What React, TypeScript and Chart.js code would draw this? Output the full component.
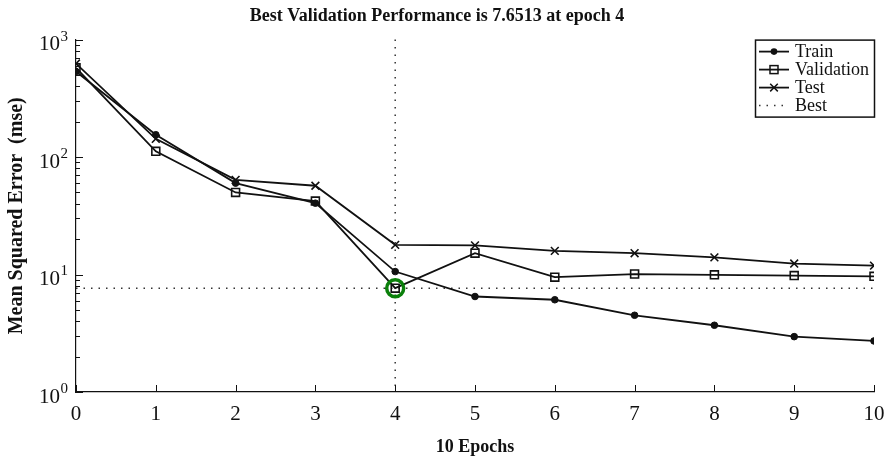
import React, { useEffect, useRef } from "react";
import { Chart, registerables } from "chart.js";

Chart.register(...registerables);

// ---- data ----
const epochs = [0, 1, 2, 3, 4, 5, 6, 7, 8, 9, 10];
const trainMSE = [535, 155, 60, 40.5, 10.6, 6.5, 6.1, 4.5, 3.7, 2.96, 2.72];
const validationMSE = [575, 112, 50, 42.2, 7.6513, 15.2, 9.5, 10.1, 9.95, 9.8, 9.65];
const testMSE = [625, 143, 64, 57, 17.9, 17.7, 15.9, 15.2, 14.0, 12.4, 11.9];
const bestEpoch = 4;
const bestValue = 7.6513;
const yTickValues = [1, 10, 100, 1000];
const yTickBase = "10";
const yTickExponents = ["0", "1", "2", "3"];
const xTickValues = [0, 1, 2, 3, 4, 5, 6, 7, 8, 9, 10];
const legendLabels = ["Train", "Validation", "Test", "Best"];
const titleText = "Best Validation Performance is 7.6513 at epoch 4";
const xTitle = "10 Epochs";
const yTitle = "Mean Squared Error  (mse)";

const SERIF = "'Liberation Serif', 'Times New Roman', Times, serif";
const INK = "#111111";

const inwardTicks = {
  id: "inwardTicks",
  afterDraw(chart: any) {
    const { ctx, chartArea } = chart;
    const xs = chart.scales.x;
    const ys = chart.scales.y;
    ctx.save();
    ctx.strokeStyle = INK;
    ctx.lineWidth = 1;
    ctx.beginPath();
    for (let d = 0; d < yTickValues.length; d++) {
      const base = yTickValues[d];
      const py = Math.round(ys.getPixelForValue(base)) + 0.5;
      ctx.moveTo(chartArea.left, py);
      ctx.lineTo(chartArea.left + 7, py);
      if (d < yTickValues.length - 1) {
        for (let m = 2; m <= 9; m++) {
          const my = Math.round(ys.getPixelForValue(base * m)) + 0.5;
          ctx.moveTo(chartArea.left, my);
          ctx.lineTo(chartArea.left + 4, my);
        }
      }
    }
    for (const v of xTickValues) {
      const px = Math.round(xs.getPixelForValue(v)) + 0.5;
      ctx.moveTo(px, chartArea.bottom);
      ctx.lineTo(px, chartArea.bottom - 7);
    }
    ctx.stroke();

    // y tick labels: base with raised exponent, placed by the log scale
    ctx.fillStyle = INK;
    ctx.textBaseline = "middle";
    yTickValues.forEach((v, i) => {
      const py = ys.getPixelForValue(v);
      const expX = chartArea.left - 16;
      ctx.font = `21px ${SERIF}`;
      ctx.textAlign = "right";
      ctx.fillText(yTickBase, expX, py + 5);
      ctx.font = `15px ${SERIF}`;
      ctx.textAlign = "left";
      ctx.fillText(yTickExponents[i], expX + 0.5, py - 3);
    });
    ctx.restore();
  },
};

const bestLines = {
  id: "bestLines",
  beforeDatasetsDraw(chart: any) {
    const { ctx, chartArea } = chart;
    const px = chart.scales.x.getPixelForValue(bestEpoch);
    const py = chart.scales.y.getPixelForValue(bestValue);
    ctx.save();
    ctx.strokeStyle = "#333333";
    ctx.lineWidth = 1.5;
    ctx.setLineDash([1.5, 6]);
    ctx.beginPath();
    ctx.moveTo(px, chartArea.top);
    ctx.lineTo(px, chartArea.bottom);
    ctx.moveTo(chartArea.left, py);
    ctx.lineTo(chartArea.right, py);
    ctx.stroke();
    ctx.restore();
  },
};

const customLegend = {
  id: "customLegend",
  afterDraw(chart: any) {
    const { ctx, chartArea } = chart;
    const w = 120;
    const h = 78;
    const bx = chartArea.right - w + 1;
    const by = chartArea.top;
    ctx.save();
    ctx.fillStyle = "#ffffff";
    ctx.fillRect(bx, by, w, h);
    ctx.strokeStyle = INK;
    ctx.lineWidth = 1.5;
    ctx.strokeRect(bx + 0.5, by + 0.5, w - 1, h - 1);
    ctx.font = `18px ${SERIF}`;
    ctx.textBaseline = "middle";
    ctx.textAlign = "left";
    legendLabels.forEach((label, i) => {
      const y = by + 12 + i * 18;
      const x0 = bx + 4;
      const x1 = bx + 34;
      const cx = (x0 + x1) / 2;
      ctx.strokeStyle = INK;
      ctx.fillStyle = INK;
      if (i < 3) {
        ctx.lineWidth = 1.8;
        ctx.setLineDash([]);
        ctx.beginPath();
        ctx.moveTo(x0, y);
        ctx.lineTo(x1, y);
        ctx.stroke();
        ctx.lineWidth = 1.5;
        if (i === 0) {
          ctx.beginPath();
          ctx.arc(cx, y, 3.3, 0, Math.PI * 2);
          ctx.fill();
        } else if (i === 1) {
          ctx.strokeRect(cx - 4, y - 4, 8, 8);
        } else {
          ctx.beginPath();
          ctx.moveTo(cx - 3.8, y - 3.8);
          ctx.lineTo(cx + 3.8, y + 3.8);
          ctx.moveTo(cx - 3.8, y + 3.8);
          ctx.lineTo(cx + 3.8, y - 3.8);
          ctx.stroke();
        }
      } else {
        ctx.strokeStyle = "#333333";
        ctx.lineWidth = 1.5;
        ctx.setLineDash([1.5, 6]);
        ctx.beginPath();
        ctx.moveTo(x0, y);
        ctx.lineTo(x1, y);
        ctx.stroke();
        ctx.setLineDash([]);
      }
      ctx.fillStyle = INK;
      ctx.fillText(label, bx + 40, y + 1);
    });
    ctx.restore();
  },
};

function toXY(values: number[]) {
  return epochs.map((e, i) => ({ x: e, y: values[i] }));
}

export default function App() {
  const canvasRef = useRef<HTMLCanvasElement | null>(null);

  useEffect(() => {
    if (!canvasRef.current) return;
    Chart.defaults.font.family = SERIF;
    Chart.defaults.color = INK;
    const chart = new Chart(canvasRef.current, {
      type: "line",
      data: {
        datasets: [
          {
            label: "Best",
            data: [{ x: bestEpoch, y: bestValue }],
            showLine: false,
            pointStyle: "circle",
            pointRadius: 8.5,
            pointBorderWidth: 3.5,
            pointBorderColor: "#0b800b",
            pointBackgroundColor: "rgba(0,0,0,0)",
            borderColor: "#0b800b",
          },
          {
            label: legendLabels[0],
            data: toXY(trainMSE),
            borderColor: INK,
            borderWidth: 1.8,
            pointStyle: "circle",
            pointRadius: 3.3,
            pointBorderWidth: 1,
            pointBackgroundColor: INK,
            pointBorderColor: INK,
            tension: 0,
          },
          {
            label: legendLabels[1],
            data: toXY(validationMSE),
            borderColor: INK,
            borderWidth: 1.8,
            pointStyle: "rect",
            pointRadius: 5.6,
            pointBorderWidth: 1.6,
            pointBackgroundColor: "rgba(0,0,0,0)",
            pointBorderColor: INK,
            tension: 0,
          },
          {
            label: legendLabels[2],
            data: toXY(testMSE),
            borderColor: INK,
            borderWidth: 1.8,
            pointStyle: "crossRot",
            pointRadius: 5.5,
            pointBorderWidth: 1.6,
            pointBorderColor: INK,
            tension: 0,
          },
        ],
      },
      options: {
        responsive: false,
        animation: false,
        layout: { padding: { top: 0, right: 16, bottom: 0, left: 0 } },
        plugins: {
          legend: { display: false },
          tooltip: { enabled: false },
          title: {
            display: true,
            text: titleText,
            color: INK,
            font: { family: SERIF, size: 18, weight: "bold" },
            padding: { top: 6, bottom: 12 },
          },
        },
        scales: {
          x: {
            type: "linear",
            min: 0,
            max: 10,
            grid: { display: false, drawTicks: false },
            border: { display: true, color: INK, width: 1.2 },
            ticks: {
              stepSize: 1,
              padding: 10,
              color: INK,
              font: { family: SERIF, size: 21 },
              callback: (v: any) => String(v),
            },
            title: {
              display: true,
              text: xTitle,
              color: INK,
              font: { family: SERIF, size: 18, weight: "bold" },
              padding: { top: 0, bottom: 1 },
            },
            afterFit: (scale: any) => {
              scale.height = 67;
              scale.paddingLeft = 0;
              scale.paddingRight = 0;
            },
          },
          y: {
            type: "logarithmic",
            min: 1,
            max: 1000,
            grid: { display: false, drawTicks: false },
            border: { display: true, color: INK, width: 1.2 },
            afterBuildTicks: (scale: any) => {
              scale.ticks = yTickValues.map((v) => ({ value: v }));
            },
            ticks: { display: false },
            title: {
              display: true,
              text: yTitle,
              color: INK,
              font: { family: SERIF, size: 20, weight: "bold" },
              padding: { top: 5, bottom: 0 },
            },
            afterFit: (scale: any) => {
              scale.width = 76;
              scale.paddingTop = 0;
              scale.paddingBottom = 0;
            },
          },
        },
      },
      plugins: [bestLines, inwardTicks, customLegend],
    } as any);
    return () => chart.destroy();
  }, []);

  return (
    <div
      style={{
        position: "fixed",
        left: 0,
        top: 0,
        width: 890,
        height: 459,
        background: "#ffffff",
      }}
    >
      <canvas ref={canvasRef} width={890} height={459} />
    </div>
  );
}
